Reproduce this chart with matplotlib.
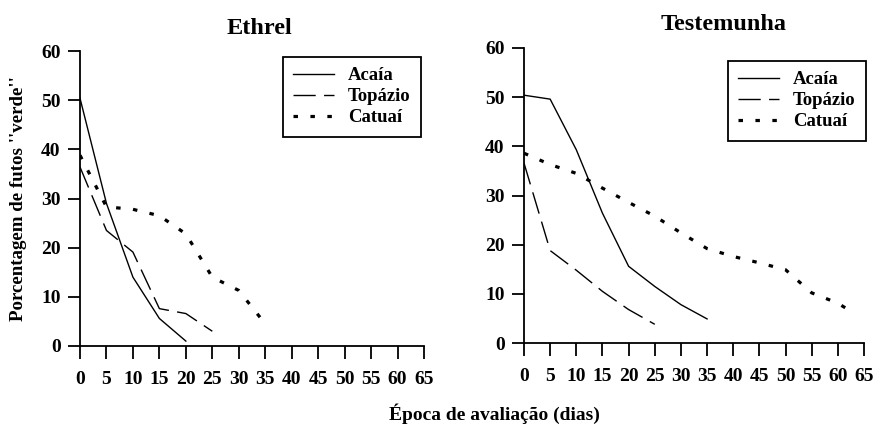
import matplotlib
matplotlib.use("Agg")
import matplotlib.pyplot as plt

plt.rcParams['font.family'] = ['Liberation Serif', 'DejaVu Serif']
plt.rcParams['font.weight'] = 'bold'

series_names = ["Acaía", "Topázio", "Catuaí"]

# Ethrel
eth_acaia_x = [0, 5, 10, 15, 20]
eth_acaia_y = [50.4, 29.0, 14.0, 5.6, 1.0]
eth_topazio_x = [0, 5, 10, 15, 20, 25]
eth_topazio_y = [36.4, 23.5, 19.1, 7.6, 6.6, 3.0]
eth_catuai_x = [0, 5, 10, 15, 20, 25, 30, 35]
eth_catuai_y = [38.8, 28.3, 27.8, 26.5, 22.8, 14.0, 11.3, 4.5]

# Testemunha
tes_acaia_x = [0, 5, 10, 15, 20, 25, 30, 35]
tes_acaia_y = [50.4, 49.6, 39.3, 26.4, 15.6, 11.5, 7.8, 4.9]
tes_topazio_x = [0, 5, 10, 15, 20, 25]
tes_topazio_y = [36.6, 18.8, 14.8, 10.5, 6.8, 3.8]
tes_catuai_x = [0, 5, 10, 15, 20, 25, 30, 35, 40, 45, 50, 55, 60, 63]
tes_catuai_y = [38.6, 36.3, 34.5, 31.5, 28.6, 25.8, 22.4, 19.2, 17.6, 16.3, 14.9, 10.2, 8.1, 6.1]

x_ticks = list(range(0, 70, 5))
y_ticks = list(range(0, 70, 10))

titles = ["Ethrel", "Testemunha"]
ylabel = "Porcentagem de futos ''verde''"
xlabel = "Época de avaliação (dias)"

W, H = 877, 426
fig = plt.figure(figsize=(W / 100, H / 100), dpi=100)

def px_axes(x0, y0, x1, y1):
    return fig.add_axes([x0 / W, 1 - y1 / H, (x1 - x0) / W, (y1 - y0) / H])

ax1 = px_axes(80, 51, 424, 346)
ax2 = px_axes(524, 48, 864, 343)

styles = [
    dict(color='black', lw=1.0, linestyle='-'),
    dict(color='black', lw=1.0, linestyle=(0, (16, 6))),
    dict(color='black', lw=2.3, linestyle=(0, (1.4, 3.9)), dash_capstyle='butt'),
]

data = [
    [(eth_acaia_x, eth_acaia_y), (eth_topazio_x, eth_topazio_y), (eth_catuai_x, eth_catuai_y)],
    [(tes_acaia_x, tes_acaia_y), (tes_topazio_x, tes_topazio_y), (tes_catuai_x, tes_catuai_y)],
]

legend_pos = [(283, 57), (728, 61)]
title_pos = [(259, 28), (724, 25)]

for ax, d, lp, tp, title in zip([ax1, ax2], data, legend_pos, title_pos, titles):
    for (xs, ys), st, name in zip(d, styles, series_names):
        ax.plot(xs, ys, label=name, **st)
    ax.set_xlim(0, 65)
    ax.set_ylim(0, 60)
    ax.set_xticks(x_ticks)
    ax.set_yticks(y_ticks)
    for s in ['top', 'right']:
        ax.spines[s].set_visible(False)
    for s in ['left', 'bottom']:
        ax.spines[s].set_linewidth(1.3)
    ax.tick_params(axis='x', direction='out', length=9, width=1.3, pad=9, labelsize=14)
    ax.tick_params(axis='y', direction='out', length=9, width=1.3, pad=5, labelsize=14)
    for lab in ax.get_xticklabels() + ax.get_yticklabels():
        lab.set_fontweight('bold')
    leg = ax.legend(loc='upper left', bbox_to_anchor=(lp[0] / W, 1 - lp[1] / H),
                    bbox_transform=fig.transFigure, frameon=True, fancybox=False,
                    edgecolor='black', framealpha=1, borderaxespad=0,
                    prop=dict(size=13.5, weight='bold'), handlelength=2.15,
                    handletextpad=0.75, borderpad=0.55, labelspacing=0.2)
    leg.get_frame().set_linewidth(1.3)
    fig.text(tp[0] / W, 1 - tp[1] / H, title, ha='center', va='center',
             fontsize=17.5, fontweight='bold')

fig.text(19 / W, 1 - 199 / H, ylabel, rotation=90, ha='center', va='center',
         fontsize=13.6, fontweight='bold')
fig.text(494 / W, 1 - 414 / H, xlabel, ha='center', va='center',
         fontsize=14, fontweight='bold')

fig.savefig("out.png", dpi=100)
